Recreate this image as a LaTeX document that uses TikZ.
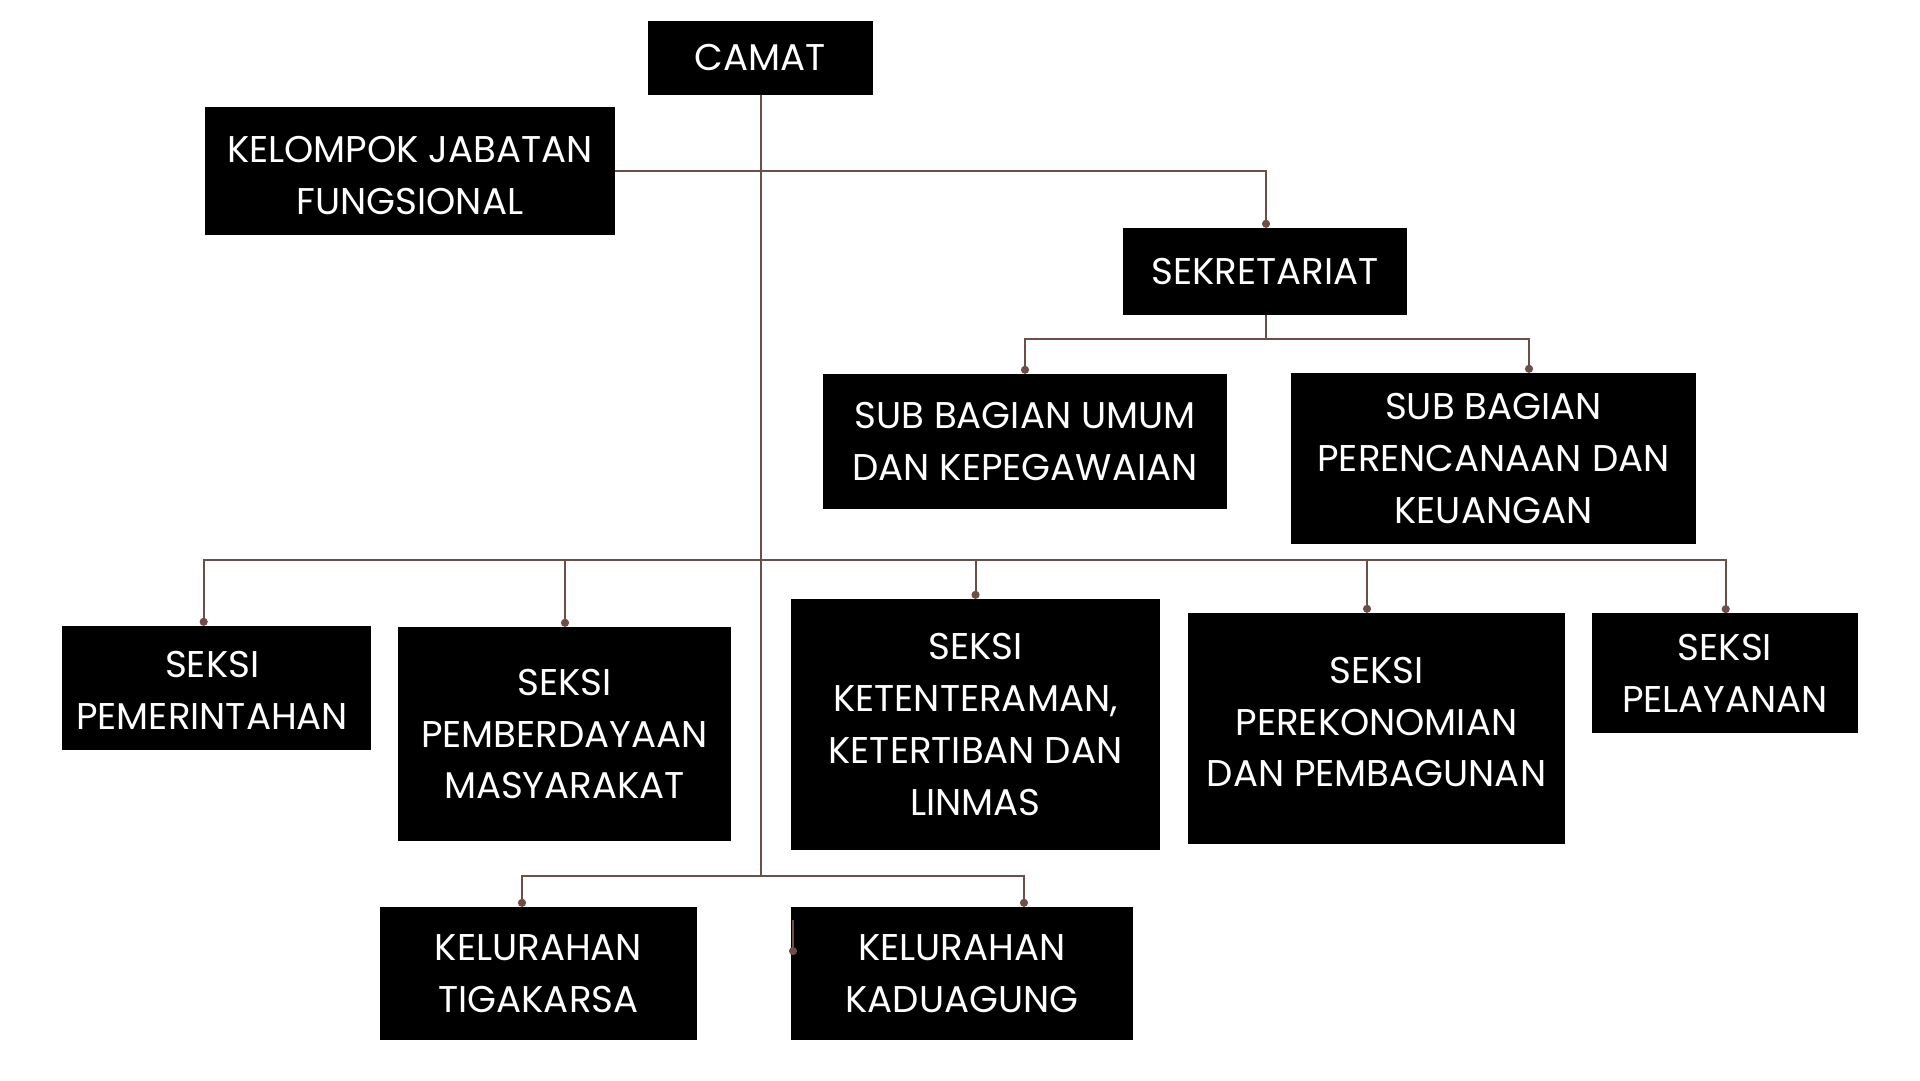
\documentclass[tikz,border=0pt]{standalone}
\usepackage{fontspec}
\setmainfont{Poppins}
\usetikzlibrary{arrows.meta}
\definecolor{linkbrown}{HTML}{6E4E48}
\tikzset{
  box/.style={fill=black, text=white, inner sep=0pt, align=center,
    font=\fontsize{37.2}{51.7}\selectfont},
  txt/.style={text=white, inner sep=0pt, align=center,
    font=\fontsize{37.2}{51.7}\selectfont},
  link/.style={draw=linkbrown, line width=2pt},
  dotlink/.style={link, -{Circle[length=8pt,width=8pt]}}
}
\begin{document}
\begin{tikzpicture}[x=1pt,y=-1pt]
\useasboundingbox (0,0) rectangle (1920,1080);
\fill[white] (0,0) rectangle (1920,1080);
% boxes
\node[box, minimum width=225, minimum height=74] (camat) at (760.5,57.7) {CAMAT};
\node[box, minimum width=410, minimum height=128] (kjf) at (410,171) {};
\node[txt] (kjftext) at ([yshift=-4.5pt]kjf.center) {KELOMPOK JABATAN\\FUNGSIONAL};
\node[box, minimum width=284, minimum height=87] (sek) at (1265,271.5) {SEKRETARIAT};
\node[box, minimum width=404, minimum height=135] (sbu) at (1025,441.5) {SUB BAGIAN UMUM\\DAN KEPEGAWAIAN};
\node[box, minimum width=405, minimum height=171] (sbp) at (1493.5,458.5) {SUB BAGIAN\\PERENCANAAN DAN\\KEUANGAN};
\node[box, minimum width=309, minimum height=124] (pem) at (216.2,688) {};
\node[txt] (pemtext) at ([xshift=-4pt,yshift=-2.5pt]pem.center) {SEKSI\\PEMERINTAHAN};
\node[box, minimum width=333, minimum height=214] (pmb) at (564.5,734) {SEKSI\\PEMBERDAYAAN\\MASYARAKAT};
\node[box, minimum width=369, minimum height=251] (ket) at (975.5,724.5) {SEKSI\\KETENTERAMAN,\\KETERTIBAN DAN\\LINMAS};
\node[box, minimum width=377, minimum height=231] (per) at (1376.5,728.5) {};
\node[txt] (pertext) at ([yshift=6.5pt]per.center) {SEKSI\\PEREKONOMIAN\\DAN PEMBAGUNAN};
\node[box, minimum width=266.6, minimum height=120] (pel) at (1725,673.3) {SEKSI\\PELAYANAN};
\node[box, minimum width=317, minimum height=133] (tig) at (538.5,973.5) {KELURAHAN\\TIGAKARSA};
\node[box, minimum width=342, minimum height=133] (kad) at (962,973.5) {KELURAHAN\\KADUAGUNG};
% junction coordinates
\coordinate (spine) at (761,876);
\coordinate (jsek) at (1266,339);
\coordinate (jmain) at (761,560);
\coordinate (stubtop) at (793,920);
\coordinate (stubend) at (793,955);
% spine
\draw[link] (camat.south -| spine) -- (spine);
% kelompok to sekretariat
\draw[dotlink] (kjf.east) -| ([xshift=1pt]sek.north);
% sekretariat to sub bagian
\draw[link] ([xshift=1pt]sek.south) -- (jsek);
\draw[dotlink] (jsek) -| (sbu.north);
\draw[dotlink] (jsek) -| ([xshift=35.5pt]sbp.north);
% seksi row
\draw[dotlink] (jmain) -| ([xshift=-12.5pt]pem.north);
\draw[dotlink] (jmain) -| ([xshift=0.5pt]pmb.north);
\draw[dotlink] (jmain) -| (ket.north);
\draw[dotlink] (jmain) -| ([xshift=-9.5pt]per.north);
\draw[dotlink] (jmain) -| ([xshift=0.7pt]pel.north);
% kelurahan row
\draw[dotlink] (spine) -| ([xshift=-16.5pt]tig.north);
\draw[dotlink] (spine) -| ([xshift=62pt]kad.north);
% stub inside kaduagung
\draw[dotlink] (stubtop) -- (stubend);
\end{tikzpicture}
\end{document}
